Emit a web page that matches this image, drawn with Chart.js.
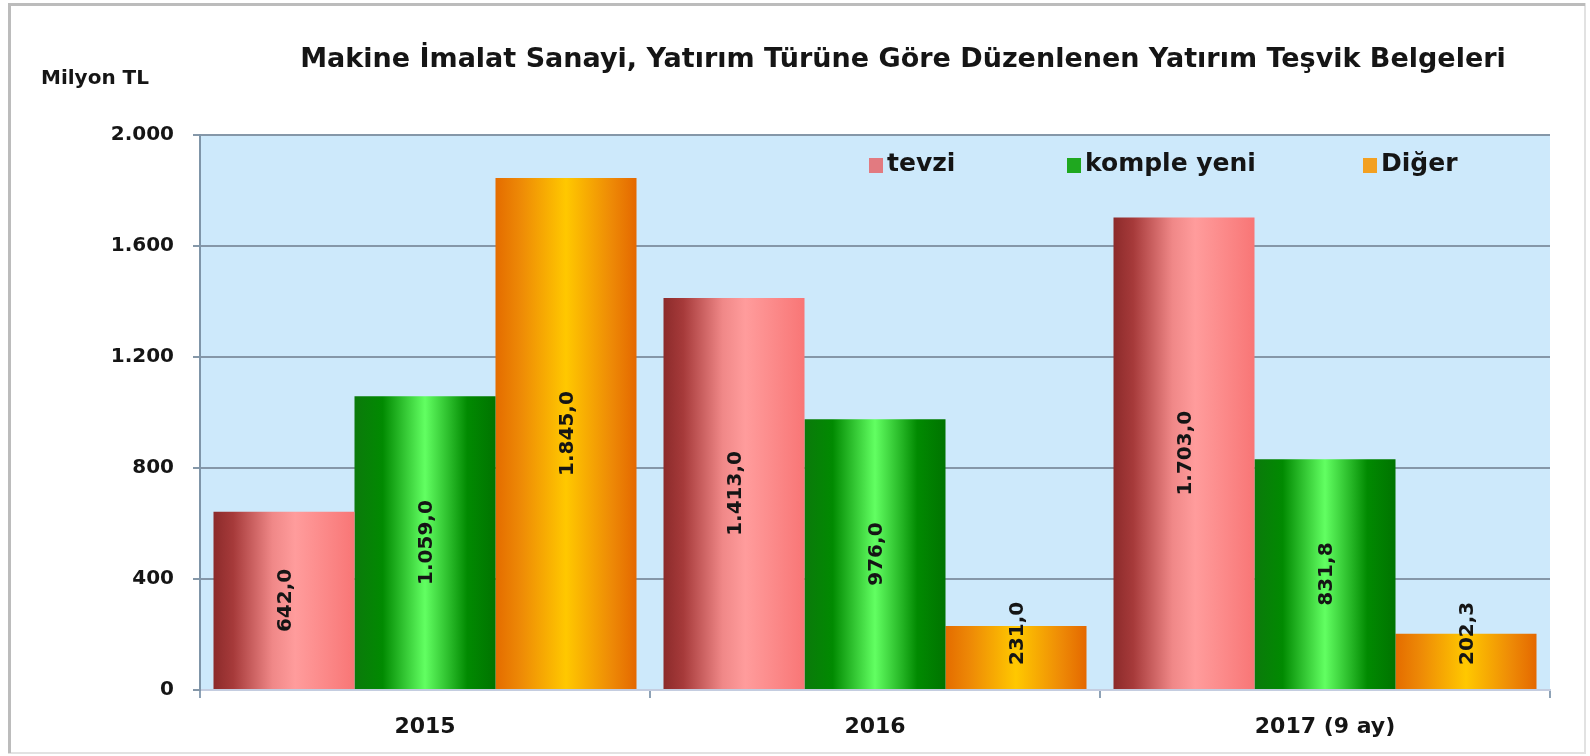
<!DOCTYPE html>
<html>
<head>
<meta charset="utf-8">
<script src="https://cdn.jsdelivr.net/npm/chart.js@4.4.0/dist/chart.umd.min.js"></script>
<style>
  html, body { margin: 0; padding: 0; background: #fff; }
</style>
</head>
<body>
<canvas id="chartBar" width="1590" height="756"></canvas>
<script>
// data
const categories = ["2015", "2016", "2017 (9 ay)"];
const tevzi = [642.0, 1413.0, 1703.0];
const kompleYeni = [1059.0, 976.0, 831.8];
const diger = [1845.0, 231.0, 202.3];
const yTickValues = [0, 400, 800, 1200, 1600, 2000];
const seriesNames = ["tevzi", "komple yeni", "Diğer"];
const titleText = "Makine İmalat Sanayi, Yatırım Türüne Göre Düzenlenen Yatırım Teşvik Belgeleri";
const unitText = "Milyon TL";

const FONT = "'DejaVu Sans', Verdana, sans-serif";
const CAT_PCT = 0.94;

// turkish number format: 1.845,0
function trNum(v, dec) {
  var s = v.toFixed(dec);
  var parts = s.split(".");
  var intPart = parts[0].replace(/\B(?=(\d{3})+(?!\d))/g, ".");
  return dec ? intPart + "," + parts[1] : intPart;
}

// horizontal gradient stops per series (cylinder look)
const stops = [
  [[0, "#8c2b2b"], [0.14, "#a63a3a"], [0.42, "#f08888"], [0.58, "#ff9c9c"], [1, "#f87676"]],
  [[0, "#0b7a0b"], [0.2, "#018a01"], [0.5, "#62ff62"], [0.8, "#018a01"], [1, "#007400"]],
  [[0, "#e46c00"], [0.18, "#ee8a06"], [0.5, "#ffc800"], [0.82, "#ee8a06"], [1, "#e46800"]]
];
const legendColors = ["#e27a80", "#1fa81f", "#f3a020"];

function barGradient(context) {
  var chart = context.chart;
  var d = context.datasetIndex;
  var xs = chart.scales.x;
  if (context.type !== "data" || !xs || !chart.chartArea) return legendColors[d];
  var catW = xs.width / categories.length;
  var barW = catW * CAT_PCT / 3;
  var cx = xs.getPixelForValue(context.dataIndex) + (d - 1) * barW;
  var g = chart.ctx.createLinearGradient(cx - barW / 2, 0, cx + barW / 2, 0);
  stops[d].forEach(function (s) { g.addColorStop(s[0], s[1]); });
  return g;
}

const decor = {
  id: "decor",
  beforeDraw(chart) {
    const ctx = chart.ctx;
    const a = chart.chartArea;
    ctx.save();
    ctx.fillStyle = "#ffffff";
    ctx.fillRect(0, 0, chart.width, chart.height);
    // outer frame
    ctx.strokeStyle = "#e2e2e2";
    ctx.lineWidth = 2;
    ctx.strokeRect(9, 4, chart.width - 14, chart.height - 7);
    ctx.strokeStyle = "#bcbcbc";
    ctx.lineWidth = 3;
    ctx.beginPath();
    ctx.moveTo(9.5, chart.height - 3);
    ctx.lineTo(9.5, 4.5);
    ctx.lineTo(chart.width - 5, 4.5);
    ctx.stroke();
    // plot area
    ctx.fillStyle = "#cde9fb";
    ctx.fillRect(a.left, a.top, a.right - a.left, a.bottom - a.top);
    ctx.restore();
  },
  afterDatasetsDraw(chart) {
    const ctx = chart.ctx;
    ctx.save();
    ctx.font = "bold 20px " + FONT;
    ctx.fillStyle = "#151515";
    ctx.textAlign = "center";
    ctx.textBaseline = "middle";
    chart.data.datasets.forEach(function (ds, di) {
      chart.getDatasetMeta(di).data.forEach(function (el, i) {
        var txt = trNum(ds.data[i], 1);
        var len = ctx.measureText(txt).width;
        var h = el.base - el.y;
        var cy = (el.y + el.base) / 2;
        if (len + 20 > h) cy = el.base - len / 2 - 24;
        ctx.save();
        ctx.translate(el.x + 2, cy);
        ctx.rotate(-Math.PI / 2);
        ctx.fillText(txt, 0, 0);
        ctx.restore();
      });
    });
    ctx.restore();
  },
  afterDraw(chart) {
    const ctx = chart.ctx;
    const a = chart.chartArea;
    ctx.save();
    ctx.fillStyle = "#151515";
    ctx.textBaseline = "middle";
    // title
    ctx.font = "bold 27px " + FONT;
    ctx.textAlign = "center";
    ctx.fillText(titleText, 903, 60);
    // unit label
    ctx.font = "bold 20px " + FONT;
    ctx.textAlign = "left";
    ctx.fillText(unitText, 41, 79);
    // legend inside plot area
    ctx.font = "bold 25px " + FONT;
    var starts = [a.left + 669, a.left + 867, a.left + 1163];
    seriesNames.forEach(function (name, i) {
      ctx.fillStyle = legendColors[i];
      ctx.fillRect(starts[i], 158, 14, 15);
      ctx.fillStyle = "#151515";
      ctx.fillText(name, starts[i] + 18, 164);
    });
    ctx.restore();
  }
};

const ctx = document.getElementById("chartBar").getContext("2d");

const chartBar = new Chart(ctx, {
  type: "bar",
  data: {
    labels: categories,
    datasets: [
      { label: seriesNames[0], data: tevzi, backgroundColor: barGradient },
      { label: seriesNames[1], data: kompleYeni, backgroundColor: barGradient },
      { label: seriesNames[2], data: diger, backgroundColor: barGradient },
    ],
  },
  options: {
    responsive: false,
    animation: false,
    devicePixelRatio: 1,
    layout: {
      padding: { left: 0, top: 135, right: 40, bottom: 0 },
    },
    datasets: {
      bar: {
        categoryPercentage: CAT_PCT,
        barPercentage: 1.0,
        borderWidth: 0,
      },
    },
    plugins: {
      legend: { display: false },
      title: { display: false },
      tooltip: { enabled: false },
    },
    scales: {
      x: {
        afterFit: function (scale) { scale.height = 66; },
        grid: {
          offset: true,
          drawOnChartArea: false,
          drawTicks: true,
          tickLength: 8,
          color: "#8ea2b6",
          lineWidth: 2,
        },
        border: { color: "#c4cde0", width: 2 },
        ticks: {
          color: "#151515",
          padding: 16,
          font: { family: FONT, size: 22, weight: "bold" },
        },
      },
      y: {
        min: 0,
        max: 2000,
        afterFit: function (scale) { scale.width = 200; },
        afterBuildTicks: function (scale) {
          scale.ticks = yTickValues.map(function (v) { return { value: v }; });
        },
        grid: {
          color: "#8597a8",
          lineWidth: 2,
          tickLength: 7,
        },
        border: { color: "#7f95a8", width: 2 },
        ticks: {
          color: "#151515",
          padding: 19,
          font: { family: FONT, size: 20, weight: "bold" },
          callback: function (v) { return trNum(v, 0); },
        },
      },
    },
  },
  plugins: [decor],
});
</script>
</body>
</html>
